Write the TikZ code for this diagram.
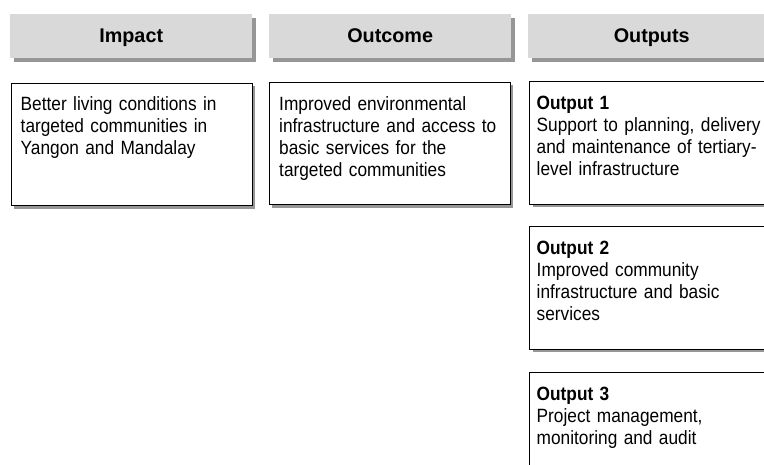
\documentclass[tikz,border=0pt]{standalone}
\usepackage{fontspec}
\setmainfont{Liberation Sans}
\newfontfamily\bodyfont[FakeStretch=0.9]{Liberation Sans}
\usetikzlibrary{shadows}
\definecolor{hdrgray}{RGB}{217,217,217}
\definecolor{shadowgray}{RGB}{150,150,150}
\begin{document}
\begin{tikzpicture}[x=1pt,y=-1pt,
  shadowed/.style={drop shadow={shadow xshift=3.5pt,shadow yshift=-3.5pt,fill=shadowgray,opacity=1}},
  hdr/.style={shadowed,fill=hdrgray,anchor=north west,inner sep=0pt,minimum height=44pt,
    font=\bfseries\fontsize{19.8}{22}\selectfont,text height=14pt,text depth=0.6pt},
  card/.style={shadowed,fill=white,draw=black,line width=0.8pt,anchor=north west,inner sep=0pt,minimum height=122.5pt},
  cardtext/.style={anchor=base west,inner sep=0pt,align=left,text width=236pt,
    font=\bodyfont\fontsize{19.2}{22.2}\selectfont},
]
\useasboundingbox (0,0) rectangle (764,464);
\clip (0,0) rectangle (764,464);
\fill[white] (0,0) rectangle (764,464);

\node[hdr,minimum width=242pt] (h1) at (10,14) {Impact};
\node[hdr,minimum width=242pt] (h2) at (269,14) {Outcome};
\node[hdr,minimum width=247pt] (h3) at (528,14) {Outputs};

\node[card,minimum width=241pt] (b1) at (10.5,82.5) {};
\node[card,minimum width=241pt] (b2) at (268.5,81.5) {};
\node[card,minimum width=242pt] (o1) at (529,81) {};
\node[card,minimum width=242pt] (o2) at (529,226) {};
\node[card,minimum width=242pt] (o3) at (529,372) {};

\node[cardtext] (t1) at (20.5,110) {Better living conditions in\\targeted communities in\\Yangon and Mandalay};
\node[cardtext] (t2) at (279,110) {Improved environmental\\infrastructure and access to\\basic services for the\\targeted communities};
\node[cardtext] (t3) at (536.5,109.3) {\textbf{Output 1}\\Support to planning, delivery\\and maintenance of tertiary-\\level infrastructure};
\node[cardtext] (t4) at (536.5,254.3) {\textbf{Output 2}\\Improved community\\infrastructure and basic\\services};
\node[cardtext] (t5) at (536.5,400.3) {\textbf{Output 3}\\Project management,\\monitoring and audit};
\end{tikzpicture}
\end{document}
